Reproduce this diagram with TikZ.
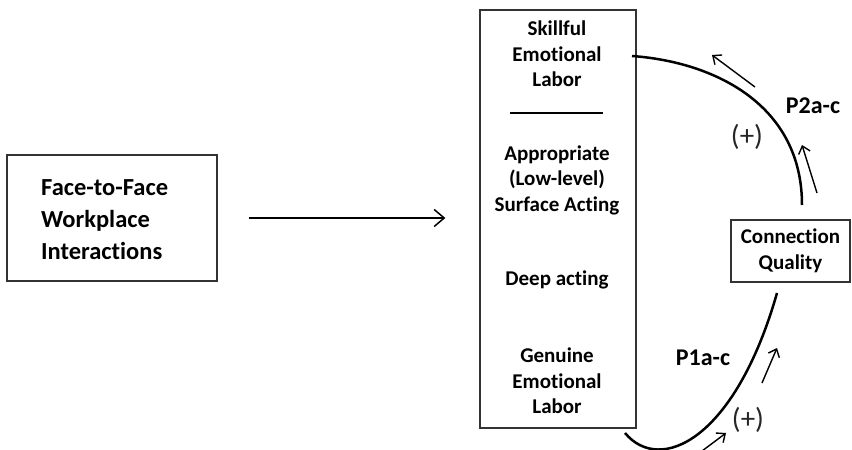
\documentclass[tikz,border=0pt]{standalone}
\usepackage{fontspec}
\setmainfont{Carlito}[Ligatures=NoCommon]
\usetikzlibrary{arrows.meta}
\begin{document}
\begin{tikzpicture}[x=1pt,y=-1pt,
  box/.style={draw=black!80, line width=1.3pt, inner sep=0pt},
  lbl/.style={font=\bfseries\fontsize{21}{25.5}\selectfont, align=center, inner sep=0pt},
  plab/.style={font=\bfseries\fontsize{24}{28}\selectfont, inner sep=0pt},
  plus/.style={font=\fontsize{29}{32}\selectfont, text=black!85, inner sep=0pt},
  curve/.style={line width=2.5pt},
  small/.style={line width=1.4pt, -{Straight Barb[length=7pt,width=12pt]}},
  mainarrow/.style={line width=1.5pt, -{Straight Barb[length=10pt,width=17pt]}}]
\useasboundingbox (0,0) rectangle (852,450);
% boxes
\node[box, minimum width=210pt, minimum height=126pt] (face) at (112,218) {};
\node[inner sep=0pt, anchor=west, align=left,
      font=\bfseries\fontsize{24.5}{32}\selectfont] (facetext) at (41,220)
      {Face-to-Face\\Workplace\\Interactions};
\node[box, minimum width=156pt, minimum height=418pt] (mid) at (558,219) {};
\node[box, minimum width=119pt, minimum height=62pt, lbl] (cq) at (790.5,251)
      {Connection\\Quality};
% texts in middle box
\node[lbl] (skill) at (557,54) {Skillful\\Emotional\\Labor};
\node[lbl] (approp) at (557,180) {Appropriate\\(Low-level)\\Surface Acting};
\node[lbl] (deep) at (557,280) {Deep acting};
\node[lbl] (genuine) at (557,381) {Genuine\\Emotional\\Labor};
\coordinate (sepL) at (510,113);
\coordinate (sepR) at (603,113);
\draw[line width=1.8pt] (sepL) -- (sepR);
% main arrow
\draw[mainarrow] ([xshift=31pt]face.east) -- ([xshift=-34pt]face.east -| mid.west);
% upper curve
\coordinate (u0) at (632,56);
\coordinate (u1) at (802,205);
\draw[curve] (u0) .. controls (715,62) and (802,105) .. (u1);
% lower curve
\coordinate (l0) at (625,433);
\coordinate (l1) at (777,293);
\draw[curve] (l0) .. controls (660,475) and (735,440) .. (l1);
% small arrows
\coordinate (a1s) at (755,87);  \coordinate (a1e) at (712,55);
\coordinate (a2s) at (817,193); \coordinate (a2e) at (802,145);
\coordinate (a3s) at (762,383); \coordinate (a3e) at (777,348);
\coordinate (a4s) at (702,451); \coordinate (a4e) at (726,433);
\draw[small] (a1s) -- (a1e);
\draw[small] (a2s) -- (a2e);
\draw[small] (a3s) -- (a3e);
\draw[small] (a4s) -- (a4e);
% labels
\node[plus] (plusU) at (747,137) {(+)};
\node[plab] (p2) at (813,106) {P2a-c};
\node[plab] (p1) at (703,358) {P1a-c};
\node[plus] (plusL) at (748,420) {(+)};
\end{tikzpicture}
\end{document}
